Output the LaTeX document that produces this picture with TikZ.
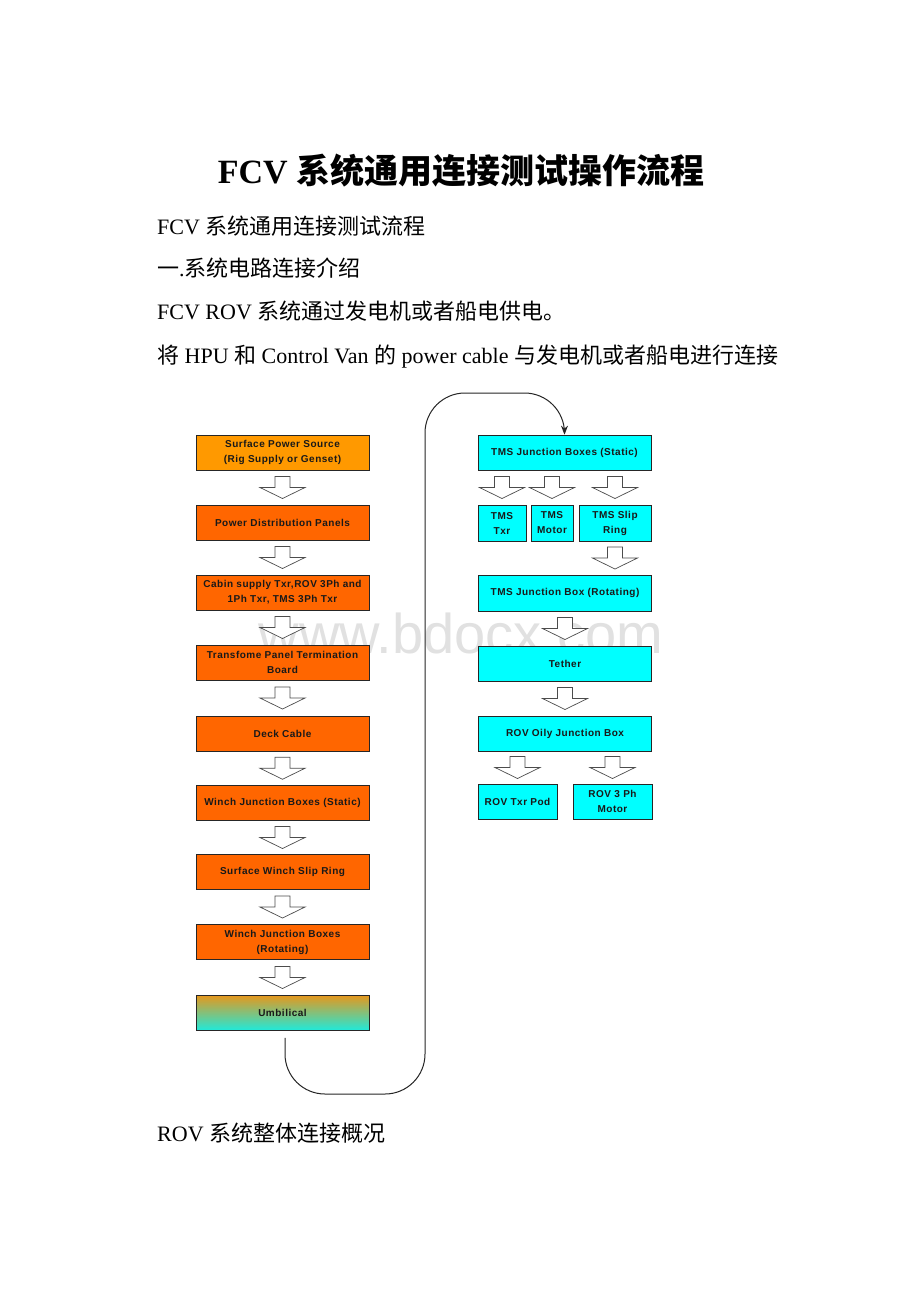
\documentclass[tikz,border=0pt]{standalone}
\usepackage{fontspec}
\setmainfont{Liberation Serif}
\newfontfamily\cjk{Noto Sans CJK SC}
\newfontfamily\boxfont[LetterSpace=5]{Liberation Sans}
\newfontfamily\wmfont{Liberation Sans}
\usetikzlibrary{arrows.meta,calc}
\definecolor{lorange}{HTML}{FF9900}
\definecolor{dorange}{HTML}{FF6600}
\definecolor{tcyan}{HTML}{00FFFF}
\definecolor{umbtop}{RGB}{228,152,30}
\definecolor{umbbot}{RGB}{30,234,220}
\definecolor{wmgray}{RGB}{225,225,225}
\begin{document}
\begin{tikzpicture}[x=1pt,y=-1pt,
  bx/.style={draw=black!85, line width=0.8pt, minimum width=173pt, minimum height=35pt,
    inner sep=1pt, align=center, text=black!90,
    font=\boxfont\bfseries\fontsize{10}{15}\selectfont},
  lbox/.style={bx, fill=dorange},
  rbox/.style={bx, fill=tcyan},
  body/.style={anchor=base west, inner sep=0pt, font=\fontsize{22}{26}\selectfont},
  harrow/.pic={\draw[draw=black!70, fill=white, line width=0.7pt, line join=miter]
     (-7.5,-11) -- (7.5,-11) -- (7.5,0) -- (22.5,0) -- (0,11) -- (-22.5,0) -- (-7.5,0) -- cycle;}
]
\useasboundingbox[fill=white] (0,0) rectangle (920,1302);

% texts
\node[anchor=base, inner sep=0pt, font=\fontsize{34}{40}\selectfont\bfseries] (title) at (461,183)
  {FCV {\cjk 系统通用连接测试操作流程}};
\node[body] (l1) at (157,234) {FCV {\cjk 系统通用连接测试流程}};
\node[body] (l2) at (157,276) {{\cjk 一}.{\cjk 系统电路连接介绍}};
\node[body] (l3) at (157,319) {FCV ROV {\cjk 系统通过发电机或者船电供电。}};
\node[body] (l4) at (157,363) {{\cjk 将} HPU {\cjk 和} Control Van {\cjk 的} power cable {\cjk 与发电机或者船电进行连接}};
\node[body] (l5) at (157,1141) {ROV {\cjk 系统整体连接概况}};

% watermark
\node[font=\wmfont\fontsize{56}{60}\selectfont, text=wmgray, inner sep=0pt] (wm) at (461,633) {www.bdocx.com};

% left column
\node[bx, fill=lorange] (b1) at (282.5,452.5) {Surface Power Source\\(Rig Supply or Genset)};
\node[lbox] (b2) at (282.5,522.5) {Power Distribution Panels};
\node[lbox] (b3) at (282.5,592.5) {Cabin supply Txr,ROV 3Ph and\\1Ph Txr, TMS 3Ph Txr};
\node[lbox] (b4) at (282.5,662.5) {Transfome Panel Termination\\Board};
\node[lbox] (b5) at (282.5,733.5) {Deck Cable};
\node[lbox] (b6) at (282.5,803) {Winch Junction Boxes (Static)};
\node[lbox] (b7) at (282.5,872) {Surface Winch Slip Ring};
\node[lbox] (b8) at (282.5,942) {Winch Junction Boxes\\(Rotating)};
\node[bx, top color=umbtop, bottom color=umbbot] (umb) at (282.5,1013) {Umbilical};

\foreach \a/\b in {b1/b2,b2/b3,b3/b4,b4/b5,b5/b6,b6/b7,b7/b8,b8/umb}
  \pic at ($(\a.south)!0.5!(\b.north)$) {harrow};

% right column
\node[rbox] (tmsS) at (564.5,452.5) {TMS Junction Boxes (Static)};
\node[rbox, minimum width=48pt, minimum height=36pt] (txr) at (502,523) {TMS\\Txr};
\node[rbox, minimum width=42pt, minimum height=36pt] (mot) at (552,523) {TMS\\Motor};
\node[rbox, minimum width=72pt, minimum height=36pt] (slip) at (615,523) {TMS Slip\\Ring};
\node[rbox, minimum height=36pt] (rot) at (565,593) {TMS Junction Box (Rotating)};
\node[rbox] (teth) at (565,663.5) {Tether};
\node[rbox] (olly) at (565,733.5) {ROV Oily Junction Box};
\node[rbox, minimum width=79pt] (pod) at (517.5,801.5) {ROV Txr Pod};
\node[rbox, minimum width=79pt] (m3) at (612.5,801.5) {ROV 3 Ph\\Motor};

\foreach \n in {txr,mot,slip}
  \pic at ($(tmsS.south -| \n.north)!0.5!(\n.north)$) {harrow};
\pic at ($(slip.south)!0.5!(rot.north -| slip.south)$) {harrow};
\pic at ($(rot.south)!0.5!(teth.north)$) {harrow};
\pic at ($(teth.south)!0.5!(olly.north)$) {harrow};
\foreach \n in {pod,m3}
  \pic at ($(olly.south -| \n.north)!0.5!(\n.north)$) {harrow};

% connector
\coordinate (cs) at ($(umb.south)+(2.5,7)$);
\coordinate (lo) at (425,1094);
\coordinate (hi) at (425,393);
\draw[line width=1pt, black!85, rounded corners=40pt, -{Stealth[length=9pt,width=7pt]}]
  (cs) |- (lo) -- (hi) -| (tmsS.north);
\end{tikzpicture}
\end{document}
